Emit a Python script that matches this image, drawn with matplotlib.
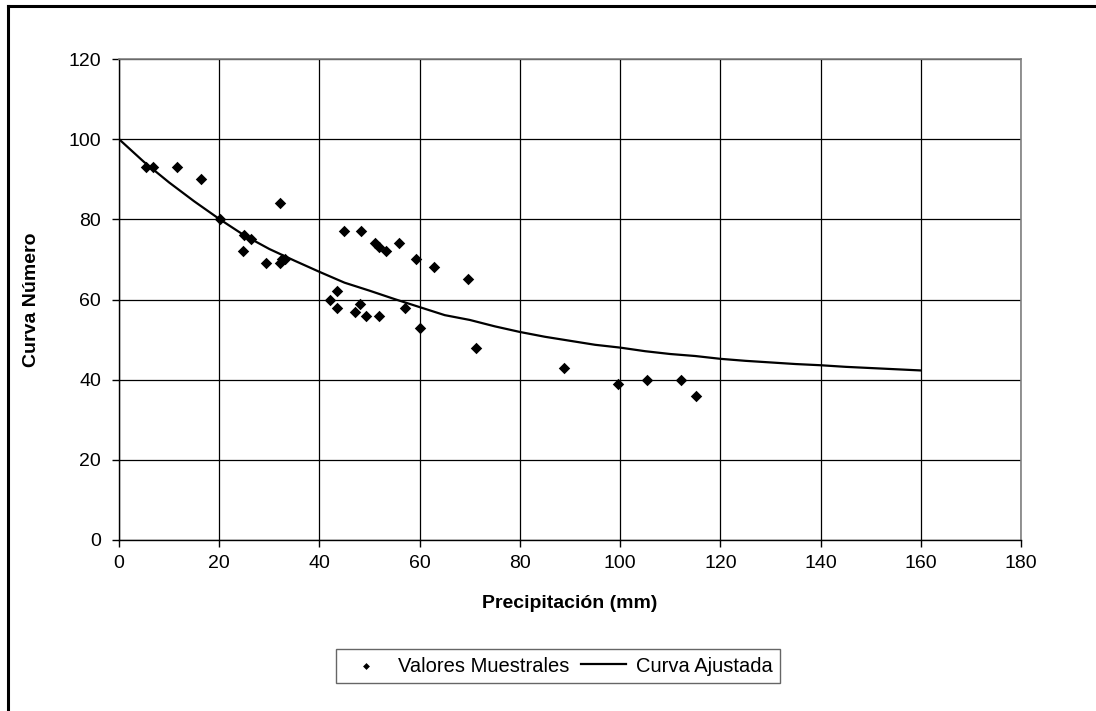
import matplotlib
matplotlib.use("Agg")
import matplotlib.pyplot as plt
from matplotlib.lines import Line2D

plt.rcParams['font.family'] = ['Liberation Sans', 'DejaVu Sans']

# ==========================
# DATA
# ==========================
precip_obs = [5.3, 6.7, 11.5, 16.4, 20.2, 24.8, 25.0, 26.3, 29.3, 32.2,
              32.2, 32.5, 33.1, 42.1, 43.5, 43.5, 44.9, 47.0, 48.1, 48.3,
              49.3, 51.1, 51.8, 51.9, 53.2, 55.9, 57.1, 59.3, 60.0, 62.9,
              69.7, 71.3, 88.9, 99.5, 105.3, 112.1, 115.1]
cn_obs = [93, 93, 93, 90, 80, 72, 76, 75, 69, 84,
          69, 70, 70, 60, 62, 58, 77, 57, 59, 77,
          56, 74, 73, 56, 72, 74, 58, 70, 53, 68,
          65, 48, 43, 39, 40, 40, 36]

precip_fit = [0, 5, 10, 15, 20, 25, 30, 35, 40, 45, 50, 55, 60, 65, 70, 75, 80,
              85, 90, 95, 100, 105, 110, 115, 120, 125, 130, 135, 140, 145,
              150, 155, 160]
cn_fit = [100, 94.3, 89.2, 84.5, 80.1, 76.0, 72.6, 69.7, 66.9, 64.2, 62.2,
          60.1, 58.1, 56.1, 54.9, 53.3, 51.9, 50.7, 49.7, 48.7, 48.0, 47.1,
          46.4, 45.9, 45.2, 44.7, 44.3, 43.9, 43.6, 43.2, 42.9, 42.6, 42.3]

x_ticks = [0, 20, 40, 60, 80, 100, 120, 140, 160, 180]
y_ticks = [0, 20, 40, 60, 80, 100, 120]

# ==========================
# FIGURE
# ==========================
W, H = 1096, 711
fig = plt.figure(figsize=(W / 100, H / 100), dpi=100)
fig.patch.set_facecolor('white')

# outer chart border (top and left visible)
fig.add_artist(Line2D([8 / W, 1.0], [1 - 6 / H, 1 - 6 / H], color='black', lw=2.2))
fig.add_artist(Line2D([8 / W, 8 / W], [1 - 6 / H, 0], color='black', lw=2.2))

left, right, top, bottom = 119, 1021, 59, 540
ax = fig.add_axes([left / W, 1 - bottom / H, (right - left) / W, (bottom - top) / H])

ax.scatter(precip_obs, cn_obs, marker='D', s=34, color='black', zorder=3,
           linewidths=0, label='Valores Muestrales')
ax.plot(precip_fit, cn_fit, color='black', lw=1.6, zorder=3, label='Curva Ajustada')

ax.set_xlim(0, 180)
ax.set_ylim(0, 120)
ax.set_xticks(x_ticks)
ax.set_yticks(y_ticks)
ax.tick_params(axis='both', labelsize=14, length=5, width=1, colors='black')
ax.tick_params(axis='y', pad=8)
ax.tick_params(axis='x', pad=6)
ax.grid(True, color='black', lw=0.9)
ax.set_axisbelow(True)

for side in ['top', 'right']:
    ax.spines[side].set_color('#808080')
    ax.spines[side].set_linewidth(1.2)
for side in ['left', 'bottom']:
    ax.spines[side].set_color('black')
    ax.spines[side].set_linewidth(1)

ax.set_xlabel('Precipitación (mm)', fontsize=14, fontweight='bold', labelpad=16)
fig.text(31 / W, 1 - 300 / H, 'Curva Número', rotation=90, fontsize=14,
         fontweight='bold', ha='center', va='center')

leg = ax.legend(loc='center', bbox_to_anchor=(558 / W, 1 - 666 / H),
                bbox_transform=fig.transFigure, ncol=2, fontsize=14.5,
                frameon=True, fancybox=False, edgecolor='#404040',
                handlelength=2.2, columnspacing=0.6, handletextpad=0.5,
                borderpad=0.35, scatterpoints=1, markerscale=0.6)
leg.get_frame().set_linewidth(1)

fig.savefig('out.png', dpi=100)
